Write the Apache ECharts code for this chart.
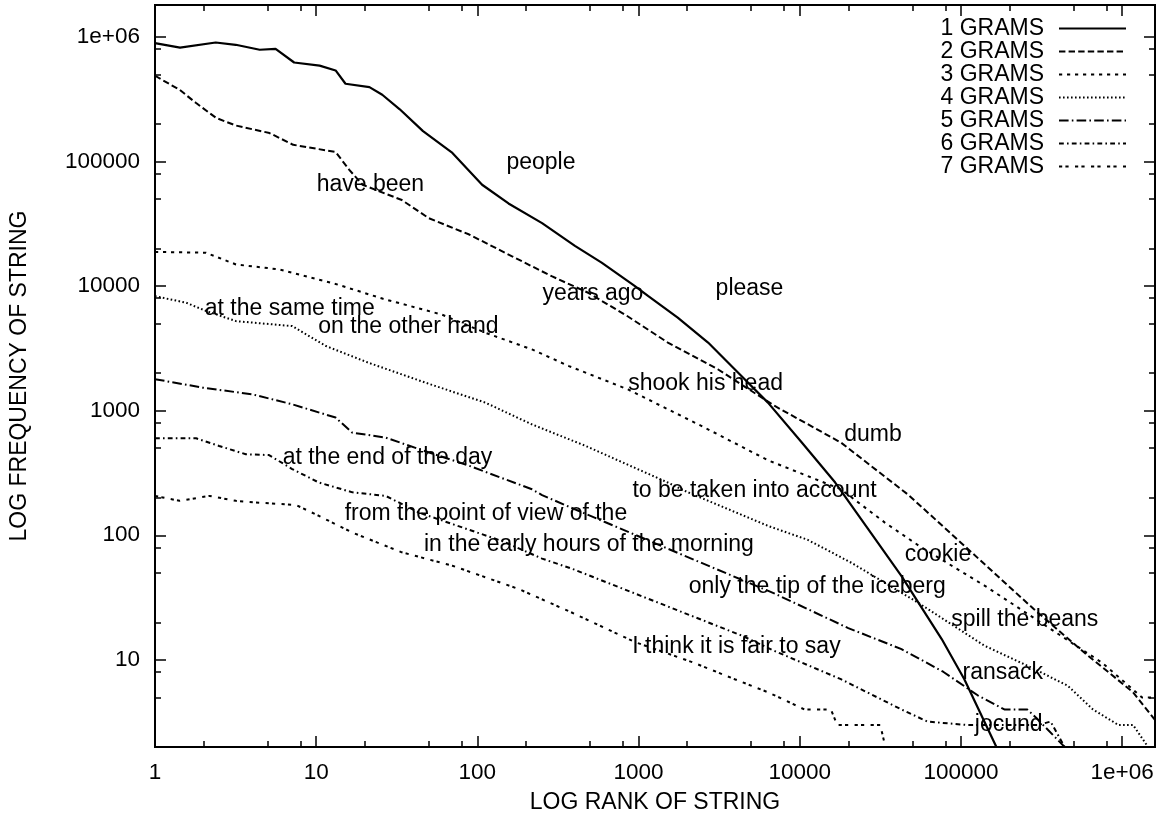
<!DOCTYPE html>
<html>
<head>
<meta charset="utf-8">
<title>Log rank / log frequency of n-gram strings</title>
<script src="https://cdn.jsdelivr.net/npm/echarts@6/dist/echarts.min.js"></script>
<style>
  html, body { margin: 0; padding: 0; background: #fff; }
  #chart { width: 1162px; height: 821px; }
</style>
</head>
<body>
<div id="chart"></div>
<script>
// [rank, frequency], one array per n-gram size
var gram1 = [[1, 890000], [1.43, 820000], [2.38, 900000], [3.17, 863000], [4.46, 787000], [5.6, 800000],
  [7.3, 622000], [10.5, 587000], [13.2, 537000], [15.2, 420000], [21.4, 395000], [25.7, 343000],
  [33, 262000], [46, 175000], [70, 117000], [107, 65000], [156, 46000], [252, 32000], [403, 21000],
  [590, 15400], [950, 10000], [1150, 8300], [1750, 5570], [2700, 3520], [3950, 2150], [6350, 1160],
  [10300, 555], [16600, 265], [26600, 112], [42800, 47], [76000, 14.7], [105000, 7], [166000, 2]];
var gram2 = [[1, 487000], [1.42, 376000], [1.8, 294000], [2.4, 223000], [3.18, 194000], [5.13, 169000],
  [7.2, 136000], [13.2, 119000], [16, 86000], [19.4, 65000], [34, 49000], [50, 35000], [89, 25900],
  [163, 17400], [289, 12000], [487, 8830], [850, 5750], [1520, 3520], [3100, 2150], [7000, 1090],
  [18000, 555], [47000, 212], [110000, 78], [283000, 25.6], [580000, 11.5], [1170000, 5.5], [1600000, 3.3]];
var gram3 = [[1, 18800], [2.07, 18500], [3.18, 14900], [5.9, 13600], [13.2, 10400], [26, 7900], [60, 5910],
  [112, 4220], [218, 3100], [370, 2280], [860, 1480], [2450, 755], [6350, 400], [18000, 234], [33600, 127],
  [56000, 81], [140000, 39.5], [360000, 17.7], [750000, 9.5], [1330000, 5], [1600000, 5]];
var gram4 = [[1, 8300], [1.56, 7350], [2.08, 6300], [3.18, 5230], [7.1, 4770], [11.5, 3300], [21, 2430],
  [47.5, 1680], [112, 1160], [218, 776], [470, 521], [1520, 265], [2030, 221], [6350, 119], [11200, 92],
  [21000, 60], [53700, 29], [140000, 13], [283000, 8.5], [460000, 6.2], [660000, 4], [950000, 3],
  [1170000, 3], [1450000, 2]];
var gram5 = [[1, 1790], [1.98, 1530], [4.04, 1350], [7.1, 1125], [13.2, 880], [16.7, 667], [27, 608],
  [43.5, 491], [89, 361], [218, 234], [252, 210], [445, 153], [1520, 78], [7000, 34], [20000, 18],
  [42800, 12.2], [78000, 8], [127000, 5.2], [186000, 4], [258000, 4], [295000, 3.4], [440000, 2]];
var gram6 = [[1, 600], [1.8, 600], [2.5, 521], [3.66, 447], [5.1, 440], [7.1, 340], [10.4, 265],
  [16.8, 221], [27, 207], [43.5, 152], [70, 123], [142, 90], [252, 65], [385, 54], [4350, 15.7],
  [6970, 11.8], [18000, 7], [42800, 4], [62000, 3.2], [110000, 3], [300000, 3], [360000, 3.2], [440000, 2]];
var gram7 = [[1, 207], [1.42, 189], [2.18, 207], [3.18, 189], [4.04, 184], [7.5, 175], [10.4, 143],
  [16.8, 105], [34, 73], [70, 57], [181, 37], [385, 24], [950, 13.9], [2150, 9.6], [3950, 7], [6350, 5.5],
  [7700, 4.9], [10700, 4], [15600, 4], [17100, 3], [31600, 3], [34000, 2], [1600000, 2]];

var seriesNames = ['1 GRAMS', '2 GRAMS', '3 GRAMS', '4 GRAMS', '5 GRAMS', '6 GRAMS', '7 GRAMS'];

// tick marks and labels
var xTicks = [1, 10, 100, 1000, 10000, 100000, 1000000];
var xTickLabels = ['1', '10', '100', '1000', '10000', '100000', '1e+06'];
var yTicks = [10, 100, 1000, 10000, 100000, 1000000];
var yTickLabels = ['10', '100', '1000', '10000', '100000', '1e+06'];
var xMinorTicks = [2, 5, 8, 20, 50, 80, 200, 500, 800, 2000, 5000, 8000, 20000, 50000, 80000,
  200000, 500000, 800000];
var yMinorTicks = [5, 8, 20, 50, 80, 200, 500, 800, 2000, 5000, 8000, 20000, 50000, 80000,
  200000, 500000, 800000];

// example strings written inside the plot, at [rank, frequency]
var noteTexts = ['people', 'have been', 'years ago', 'please', 'at the same time', 'on the other hand',
  'shook his head', 'dumb', 'at the end of the day', 'to be taken into account',
  'from the point of view of the', 'in the early hours of the morning', 'cookie',
  'only the tip of the iceberg', 'spill the beans', 'I think it is fair to say', 'ransack', 'jocund'];
var noteRanks = [248, 21.7, 521, 4880, 6.85, 37.3, 2606, 28500, 27.7, 5240, 113, 492, 72100, 12850,
  249000, 4050, 182000, 198000];
var noteFreqs = [97800, 65200, 8730, 9570, 6620, 4750, 1660, 647, 423, 226, 148, 83.4, 69.4, 38.5,
  20.9, 12.7, 7.87, 3.01];

var FONT = '"Liberation Sans", Arial, Helvetica, sans-serif';
var INK = '#000';

// gnuplot style dash patterns
var dashes = ['solid', [6.4, 3.2], [3.2, 4.8], [1.6, 2.4], [9.6, 3.2, 1.6, 3.2],
  [4.8, 3.2, 1.6, 3.2], [3.2, 3.2, 3.2, 6.4]];
var grams = [gram1, gram2, gram3, gram4, gram5, gram6, gram7];

function labelFor(ticks, labels) {
  return function (v) {
    for (var i = 0; i < ticks.length; i++) {
      if (Math.abs(Math.log10(v) - Math.log10(ticks[i])) < 1e-6) return labels[i];
    }
    return '';
  };
}

function makeAxis(range, position, ticks, len, labels, name, nameGap, margin) {
  var ax = {
    type: 'log',
    logBase: 10,
    min: range[0],
    max: range[1],
    position: position,
    axisLine: { show: false },
    splitLine: { show: false },
    minorTick: { show: false },
    axisTick: {
      show: true,
      inside: true,
      length: len,
      customValues: ticks,
      lineStyle: { color: INK, width: 1.5 }
    },
    axisLabel: { show: false }
  };
  if (labels) {
    ax.axisLabel = {
      show: true,
      customValues: ticks,
      formatter: labelFor(ticks, labels),
      margin: margin,
      color: INK,
      fontSize: 22.5,
      fontFamily: FONT
    };
    ax.name = name;
    ax.nameLocation = 'middle';
    ax.nameGap = nameGap;
    ax.nameTextStyle = { color: INK, fontSize: 23, fontFamily: FONT };
  }
  return ax;
}

var xRange = [1, 1600000];
var yRange = [2, 1800000];

var series = grams.map(function (g, i) {
  return {
    name: seriesNames[i],
    type: 'line',
    data: g,
    xAxisIndex: 0,
    yAxisIndex: 0,
    symbol: 'none',
    smooth: false,
    lineStyle: { color: INK, width: i === 0 ? 2.2 : 2, type: dashes[i] },
    itemStyle: { color: INK },
    emphasis: { disabled: true },
    z: 2
  };
});

series.push({
  name: 'notes',
  type: 'scatter',
  xAxisIndex: 0,
  yAxisIndex: 0,
  symbolSize: 1,
  itemStyle: { color: 'rgba(0,0,0,0)', opacity: 1 },
  silent: true,
  z: 3,
  data: noteTexts.map(function (t, i) {
    return { name: t, value: [noteRanks[i], noteFreqs[i]] };
  }),
  label: {
    show: true,
    position: 'inside',
    formatter: '{b}',
    color: INK,
    opacity: 1,
    fontSize: 23,
    fontFamily: FONT,
    textBorderWidth: 0
  }
});

var chartDom = document.getElementById('chart');
var myChart = echarts.init(chartDom, null, { renderer: 'canvas' });
var option = {
  animation: false,
  backgroundColor: '#fff',
  grid: {
    left: 152,
    right: 7,
    top: 5,
    bottom: 74,
    show: true,
    borderColor: INK,
    borderWidth: 2,
    backgroundColor: 'transparent'
  },
  legend: {
    data: seriesNames,
    orient: 'vertical',
    align: 'right',
    right: 30,
    top: 12,
    itemWidth: 67,
    itemHeight: 14,
    itemGap: 0,
    selectedMode: false,
    // hide the marker dot, keep only the dashed sample line
    itemStyle: { color: 'rgba(0,0,0,0)', borderWidth: 0, opacity: 0 },
    textStyle: {
      color: INK,
      fontSize: 23,
      fontFamily: FONT,
      lineHeight: 23,
      padding: [0, 10, 0, 0]
    }
  },
  xAxis: [
    makeAxis(xRange, 'bottom', xTicks, 11, xTickLabels, 'LOG RANK OF STRING', 44, 14),
    makeAxis(xRange, 'bottom', xMinorTicks, 6),
    makeAxis(xRange, 'top', xTicks, 11),
    makeAxis(xRange, 'top', xMinorTicks, 6)
  ],
  yAxis: [
    makeAxis(yRange, 'left', yTicks, 11, yTickLabels, 'LOG FREQUENCY OF STRING', 124, 15),
    makeAxis(yRange, 'left', yMinorTicks, 6),
    makeAxis(yRange, 'right', yTicks, 11),
    makeAxis(yRange, 'right', yMinorTicks, 6)
  ],
  series: series
};
option && myChart.setOption(option);
</script>
</body>
</html>
